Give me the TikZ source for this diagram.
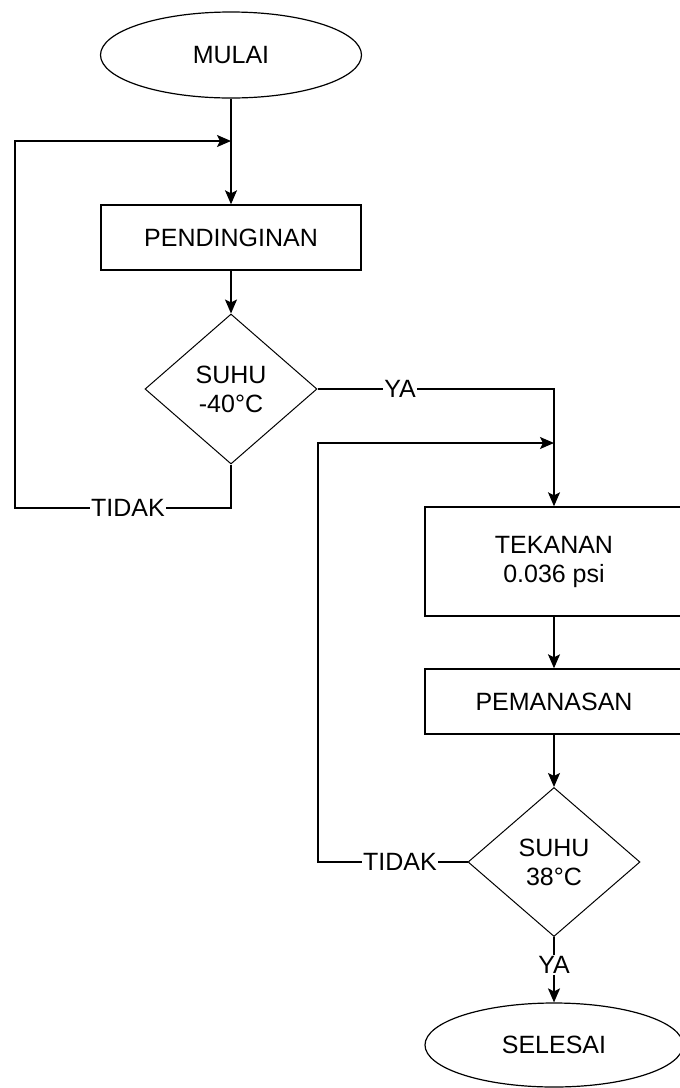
\documentclass[tikz,border=0pt]{standalone}
\usepackage{fontspec}
\setmainfont{Liberation Sans}
\usetikzlibrary{shapes.geometric,arrows.meta}

\tikzset{
  terminal/.style={ellipse, draw, line width=0.6pt, inner sep=0pt},
  process/.style={rectangle, draw, line width=0.7pt, inner sep=0pt, align=center},
  decision/.style={diamond, draw, line width=0.5pt, inner sep=0pt, align=center},
  lbl/.style={fill=white, inner sep=0.5pt},
  flow/.style={line width=0.7pt, -{Stealth[length=7pt,width=6pt,inset=1.5pt]}},
  link/.style={line width=0.7pt}
}

\begin{document}
\begin{tikzpicture}[x=0.5pt, y=-0.5pt, font=\fontsize{12.5}{14.5}\selectfont]
    % 1) Fix the page size (pixel units, y going down)
    \useasboundingbox (0,0) rectangle (680,1088);

    % 2) Left column: start, cooling, first check
    \node[terminal, minimum width=130.5pt, minimum height=43pt] (mulai) at (231,55) {MULAI};
    \node[process, minimum width=130pt, minimum height=32.5pt] (pend) at (231,237.5) {PENDINGINAN};
    \node[decision, minimum width=86pt, minimum height=75pt] (suhuA) at (231,389) {SUHU\\-40°C};

    % 3) Right column: pressure, heating, second check, end
    \node[process, minimum width=129pt, minimum height=54.5pt] (tek) at (554,561.5) {TEKANAN\\0.036 psi};
    \node[process, minimum width=129pt, minimum height=32.5pt] (pem) at (554,701.5) {PEMANASAN};
    \node[decision, minimum width=86pt, minimum height=74.5pt] (suhuB) at (554,862) {SUHU\\38°C};
    \node[terminal, minimum width=129pt, minimum height=42pt] (selesai) at (554,1045) {SELESAI};

    % 4) Junction points of the two loops
    \coordinate (joinA) at (231,141);
    \coordinate (backA) at (15,508);
    \coordinate (joinB) at (554,443);
    \coordinate (backB) at (318,443);

    % 5) Straight flow
    \draw[flow] (mulai) -- (pend);
    \draw[flow] (pend) -- (suhuA);
    \draw[flow] (tek) -- (pem);
    \draw[flow] (pem) -- (suhuB);
    \draw[flow] (suhuB) -- (selesai);

    % 6) Branches and loops
    \draw[flow] (suhuA.east) -| (tek.north);
    \draw[flow] (suhuA.south) |- (backA) |- (joinA);
    \draw[flow] (suhuB.west) -| (backB) -- (joinB);

    % 7) Labels sitting on the lines
    \node[lbl] (yaA) at (400,389) {YA};
    \node[lbl] (tidakA) at (128,508) {TIDAK};
    \node[lbl] (tidakB) at (400,862) {TIDAK};
    \node[lbl] (yaB) at (554,965) {YA};
\end{tikzpicture}
\end{document}
